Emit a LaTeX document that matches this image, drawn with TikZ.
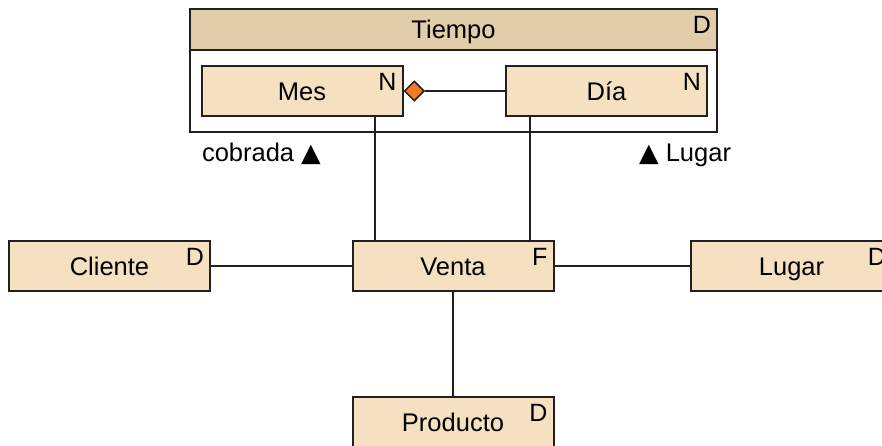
\documentclass[tikz,border=0pt]{standalone}
\usepackage{fontspec}
\setmainfont{Liberation Sans}
\newfontfamily\simbolo{DejaVu Sans}
\usetikzlibrary{shapes.geometric}
\definecolor{beige}{HTML}{F5E1C1}
\definecolor{beigeoscuro}{HTML}{E1CDA9}
\definecolor{naranja}{HTML}{F47B20}
\definecolor{trazo}{HTML}{231F20}

\tikzset{
  tabla/.style={draw=trazo, fill=beige, line width=2pt, inner sep=0pt,
                minimum width=201pt, minimum height=50pt,
                text height=18pt, text depth=0pt},
  tipo/.style={anchor=north east, inner sep=0pt, xshift=-6pt, yshift=-7pt,
               font=\fontsize{25}{29}\selectfont}
}

\begin{document}
\begin{tikzpicture}[x=1pt, y=-1pt, line width=2pt, draw=trazo,
                    font=\fontsize{25.5}{30}\selectfont]
            \useasboundingbox (0,0) rectangle (882,445);

            % Dimension Tiempo
            \node[draw=trazo, line width=2pt, minimum width=527pt, minimum height=123pt,
                  inner sep=0pt] (marco) at (453.5,70.5) {};
            \node[draw=trazo, fill=beigeoscuro, line width=2pt, minimum width=527pt,
                  minimum height=41pt, inner sep=0pt, text height=18pt, text depth=0pt,
                  anchor=north] (tiempo) at (marco.north) {Tiempo};
            \node[tipo] (tiempoD) at (tiempo.north east) {D};

            % Niveles de la jerarquia
            \node[tabla] (mes) at (302,91) {Mes};
            \node[tipo] (mesN) at (mes.north east) {N};
            \node[tabla] (dia) at (606.5,91) {Día};
            \node[tipo] (diaN) at (dia.north east) {N};
            \node[diamond, draw=trazo, fill=naranja, line width=1.5pt, inner sep=0pt,
                  minimum size=20pt, anchor=west] (rombo) at (mes.east) {};
            \draw (rombo.east) -- (dia.west);

            % Roles
            \node[anchor=base west, inner sep=0pt] (cobrada) at (201,161) {cobrada {\simbolo ▲}};
            \node[anchor=base east, inner sep=0pt] (rolLugar) at (732,161) {{\simbolo ▲} Lugar};

            % Hecho y dimensiones
            \node[tabla] (venta) at (453,266) {Venta};
            \node[tipo] (ventaF) at (venta.north east) {F};
            \node[tabla] (cliente) at (109.5,266) {Cliente};
            \node[tipo] (clienteD) at (cliente.north east) {D};
            \node[tabla] (lugar) at (791.5,266) {Lugar};
            \node[tipo] (lugarD) at (lugar.north east) {D};
            \node[tabla] (producto) at (453,422) {Producto};
            \node[tipo] (productoD) at (producto.north east) {D};

            % Conexiones
            \draw ([xshift=-28.5pt]mes.south east) coordinate (m) -- (m |- venta.north);
            \draw ([xshift=24.5pt]dia.south west) coordinate (d) -- (d |- venta.north);
            \draw (cliente.east) -- (venta.west);
            \draw (venta.east) -- (lugar.west);
            \draw (venta.south) -- (producto.north);
        \end{tikzpicture}
\end{document}
